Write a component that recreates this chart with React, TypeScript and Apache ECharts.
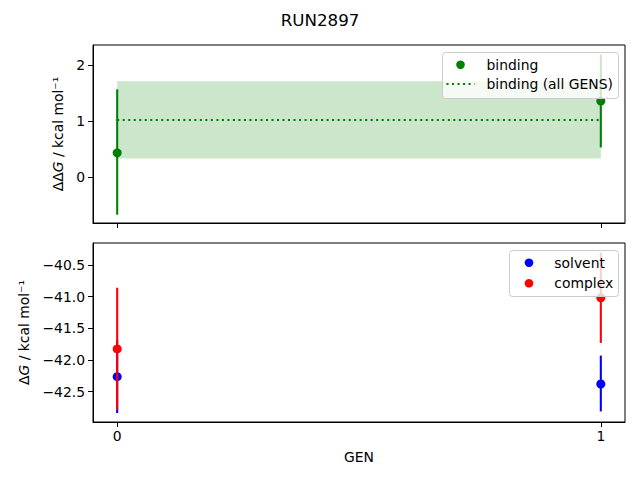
import React, { useEffect, useRef } from 'react';
import * as echarts from 'echarts';

// GEN values on the shared x axis
const gens = [0, 1];

// binding free energy per GEN, with error-bar ends
const bindingValues = [0.434, 1.357];
const bindingLow = [-0.667, 0.53];
const bindingHigh = [1.566, 2.184];

// binding estimate over all GENS, with its uncertainty band
const bindingAll = 1.018;
const bindingAllLow = 0.334;
const bindingAllHigh = 1.709;

// solvent and complex legs
const solventValues = [-42.264, -42.38];
const solventLow = [-42.839, -42.813];
const solventHigh = [-41.689, -41.932];
const complexValues = [-41.826, -41.019];
const complexLow = [-42.786, -41.731];
const complexHigh = [-40.861, -40.307];

const topTicks = [0, 1, 2];
const bottomTicks = [-42.5, -42.0, -41.5, -41.0, -40.5];

const FONT = 'DejaVu Sans';
const LW = 2.08;
const minus = (s: string) => s.replace('-', '\u2212');

const errorSeries = (
  idx: number,
  lo: number[],
  hi: number[],
  color: string,
  z: number
): any => ({
  type: 'custom',
  xAxisIndex: idx,
  yAxisIndex: idx,
  z,
  silent: true,
  data: gens.map((g, i) => [g, lo[i], hi[i]]),
  renderItem: (params: any, api: any) => {
    const a = api.coord([api.value(0), api.value(1)]);
    const b = api.coord([api.value(0), api.value(2)]);
    return {
      type: 'line',
      shape: { x1: a[0], y1: a[1], x2: b[0], y2: b[1] },
      style: { stroke: color, lineWidth: LW }
    };
  }
});

const pointSeries = (idx: number, values: number[], color: string, z: number): any => ({
  type: 'scatter',
  xAxisIndex: idx,
  yAxisIndex: idx,
  z,
  symbolSize: 9,
  itemStyle: { color, opacity: 1 },
  data: gens.map((g, i) => [g, values[i]])
});

const App: React.FC = () => {
  const chartRef = useRef<HTMLDivElement>(null);

  useEffect(() => {
    if (!chartRef.current) return;
    document.body.style.margin = '0';
    const chart = echarts.init(chartRef.current, null, { renderer: 'svg' });

    const xAxisBase = (gridIndex: number, showLabels: boolean): any => ({
      type: 'value',
      gridIndex,
      min: -0.05,
      max: 1.05,
      splitLine: { show: false },
      axisLine: { show: true, onZero: false, lineStyle: { color: '#000', width: 1 } },
      axisTick: {
        show: true,
        inside: false,
        length: 5,
        customValues: gens,
        lineStyle: { color: '#000', width: 1 }
      },
      axisLabel: {
        show: showLabels,
        customValues: gens,
        color: '#000',
        fontFamily: FONT,
        fontSize: 13.9,
        margin: 7
      }
    });

    const yAxisBase = (gridIndex: number, min: number, max: number, ticks: number[], fmt: (v: number) => string, name: string, nameGap: number): any => ({
      type: 'value',
      gridIndex,
      min,
      max,
      splitLine: { show: false },
      axisLine: { show: true, onZero: false, lineStyle: { color: '#000', width: 1 } },
      axisTick: {
        show: true,
        length: 5,
        customValues: ticks,
        lineStyle: { color: '#000', width: 1 }
      },
      axisLabel: {
        customValues: ticks,
        color: '#000',
        fontFamily: FONT,
        fontSize: 13.9,
        margin: 8,
        formatter: fmt
      },
      name,
      nameLocation: 'middle',
      nameGap,
      nameRotate: 90,
      nameTextStyle: {
        color: '#000',
        fontFamily: FONT,
        fontSize: 13.9,
        rich: {
          i: { fontStyle: 'italic', fontFamily: FONT, fontSize: 13.9, color: '#000' }
        }
      }
    });

    const legendBox = (x: number, y: number, w: number, h: number) => ({
      type: 'rect',
      z: 100,
      shape: { x, y, width: w, height: h, r: 3 },
      style: { fill: 'rgba(255,255,255,0.8)', stroke: '#cccccc', lineWidth: 1 }
    });
    const legendText = (x: number, y: number, text: string) => ({
      type: 'text',
      z: 101,
      x,
      y,
      style: {
        text,
        fill: '#000',
        font: `13.9px "${FONT}"`,
        textVerticalAlign: 'middle',
        verticalAlign: 'middle'
      }
    });
    const legendDot = (cx: number, cy: number, color: string) => ({
      type: 'circle',
      z: 101,
      shape: { cx, cy, r: 4.3 },
      style: { fill: color }
    });

    const option: any = {
      animation: false,
      title: {
        text: 'RUN2897',
        left: 'center',
        top: 6,
        textStyle: { fontFamily: FONT, fontSize: 16.7, fontWeight: 'normal', color: '#000' }
      },
      grid: [
        { left: 93, top: 45, width: 532, height: 178, show: true, borderColor: '#000', borderWidth: 1, backgroundColor: 'transparent' },
        { left: 93, top: 243, width: 532, height: 179, show: true, borderColor: '#000', borderWidth: 1, backgroundColor: 'transparent' }
      ],
      xAxis: [
        xAxisBase(0, false),
        {
          ...xAxisBase(1, true),
          name: 'GEN',
          nameLocation: 'middle',
          nameGap: 28,
          nameTextStyle: { color: '#000', fontFamily: FONT, fontSize: 13.9 }
        }
      ],
      yAxis: [
        yAxisBase(0, -0.815, 2.355, topTicks, (v: number) => minus(String(v)), '\u0394\u0394{i|G} / kcal mol\u207B\u00B9', 28),
        yAxisBase(1, -42.98, -40.155, bottomTicks, (v: number) => minus(v.toFixed(1)), '\u0394{i|G} / kcal mol\u207B\u00B9', 62)
      ],
      series: [
        {
          type: 'line',
          xAxisIndex: 0,
          yAxisIndex: 0,
          z: 1,
          symbol: 'none',
          silent: true,
          lineStyle: { color: 'green', width: LW, type: [2.08, 3.43] },
          data: gens.map((g) => [g, bindingAll]),
          markArea: {
            silent: true,
            itemStyle: { color: 'rgba(0,128,0,0.2)' },
            data: [[
              { xAxis: gens[0], yAxis: bindingAllLow },
              { xAxis: gens[gens.length - 1], yAxis: bindingAllHigh }
            ]]
          }
        },
        errorSeries(0, bindingLow, bindingHigh, 'green', 3),
        pointSeries(0, bindingValues, 'green', 4),
        errorSeries(1, solventLow, solventHigh, 'blue', 3),
        pointSeries(1, solventValues, 'blue', 4),
        errorSeries(1, complexLow, complexHigh, 'red', 5),
        pointSeries(1, complexValues, 'red', 6)
      ],
      graphic: [
        legendBox(442.5, 52.5, 176, 46),
        legendDot(460.5, 64.7, 'green'),
        legendText(486.5, 64.7, 'binding'),
        {
          type: 'line',
          z: 101,
          shape: { x1: 446.5, y1: 84, x2: 474.5, y2: 84 },
          style: { stroke: 'green', lineWidth: LW, lineDash: [2.08, 3.43] }
        },
        legendText(486.5, 84, 'binding (all GENS)'),
        legendBox(509.5, 250.5, 109, 46),
        legendDot(529, 262.7, 'blue'),
        legendText(554.3, 262.7, 'solvent'),
        legendDot(529, 283.3, 'red'),
        legendText(554.3, 283.3, 'complex')
      ]
    };

    chart.setOption(option);
    return () => {
      chart.dispose();
    };
  }, []);

  return <div ref={chartRef} style={{ width: 640, height: 480 }} />;
};

export default App;
